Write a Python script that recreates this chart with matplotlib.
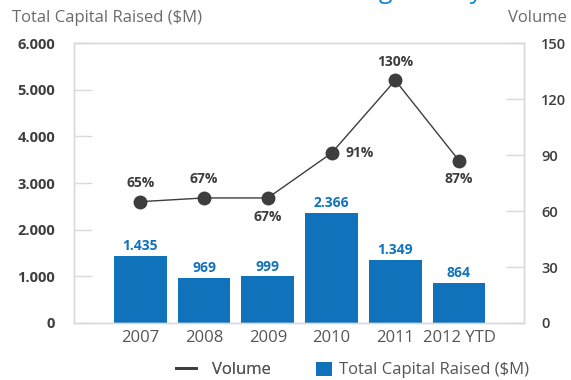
import matplotlib

matplotlib.use("Agg")
import matplotlib.pyplot as plt
from matplotlib.lines import Line2D
from matplotlib.patches import Patch

years = ["2007", "2008", "2009", "2010", "2011", "2012 YTD"]
capital = [1435, 969, 999, 2366, 1349, 864]
capital_labels = ["1.435", "969", "999", "2.366", "1.349", "864"]
volume = [65, 67, 67, 91, 130, 87]
volume_labels = ["65%", "67%", "67%", "91%", "130%", "87%"]
label_side = ["above", "above", "below", "right", "above", "below"]

left_ticks = [0, 1000, 2000, 3000, 4000, 5000, 6000]
left_ticklabels = ["0", "1.000", "2.000", "3.000", "4.000", "5.000", "6.000"]
right_ticks = [0, 30, 60, 90, 120, 150]

BLUE = "#1172bc"
DARK = "#3d3d3d"
BOX = "#dadada"
GREY = "#555555"

plt.rcParams["font.family"] = ["Open Sans", "DejaVu Sans"]

fig = plt.figure(figsize=(5.71, 3.80), dpi=100)
ax = fig.add_axes([0.1296, 0.15, 0.7881, 0.7368])
ax2 = ax.twinx()

x = list(range(len(years)))
ax.bar(x, capital, width=0.83, color=BLUE, zorder=2)
for xi, v, s in zip(x, capital, capital_labels):
    ax.annotate(s, (xi, v), xytext=(0, 2), textcoords="offset points",
                ha="center", va="bottom", fontsize=10, fontweight="bold",
                color=BLUE)

ax2.plot(x, volume, color=DARK, lw=1, marker="o", ms=9, zorder=3)
offsets = {"above": (0, 13.5), "below": (0, -13.5), "right": (20, 0)}
for xi, v, s, side in zip(x, volume, volume_labels, label_side):
    ax2.annotate(s, (xi, v), xytext=offsets[side], textcoords="offset points",
                 ha="center", va="center", fontsize=10, fontweight="bold",
                 color=DARK)

ax.set_xlim(-1.04, 6.02)
ax.set_ylim(0, 6000)
ax2.set_ylim(0, 150)

ax.set_xticks(x)
ax.set_xticklabels(years, fontsize=12, color=GREY)
ax.tick_params(axis="x", length=0, pad=5)

ax.set_yticks(left_ticks)
ax.set_yticklabels(left_ticklabels, fontsize=10.5, fontweight="bold",
                   color=DARK)
ax.tick_params(axis="y", direction="in", length=13, width=1, color=BOX,
               pad=13.5)
ax2.set_yticks(right_ticks)
ax2.set_yticklabels([str(t) for t in right_ticks], fontsize=10.5,
                    fontweight="semibold", color=DARK)
ax2.tick_params(axis="y", direction="in", length=13, width=1, color=BOX,
                pad=12.5)

for a in (ax, ax2):
    for sp in a.spines.values():
        sp.set_color(BOX)
        sp.set_linewidth(1)

fig.text(12 / 571, 1 - 18 / 380, "Total Capital Raised ($M)", fontsize=12,
         color="#6b6b6b", ha="left", va="center")
fig.text(567 / 571, 1 - 18 / 380, "Volume", fontsize=12, color="#6b6b6b",
         ha="right", va="center")
fig.text(482 / 571, 1 + 2 / 380, "Fundraising Activity", fontsize=18,
         color="#1a86d0", ha="right", va="baseline")

# two single-entry legends so each handle keeps its own size and gap
leg_opts = dict(loc="center left", frameon=False, fontsize=12,
                labelcolor=GREY, borderpad=0, borderaxespad=0)
leg1 = fig.legend([Line2D([], [], color=DARK, lw=2)], ["Volume"],
                  bbox_to_anchor=(176 / 571, 1 - 370 / 380),
                  handlelength=1.19, handletextpad=0.94, **leg_opts)
fig.add_artist(leg1)
fig.legend([Patch(facecolor=BLUE)], ["Total Capital Raised ($M)"],
           bbox_to_anchor=(316 / 571, 1 - 370 / 380),
           handlelength=0.96, handleheight=0.96, handletextpad=0.44,
           **leg_opts)

fig.savefig("out.png", dpi=100)
